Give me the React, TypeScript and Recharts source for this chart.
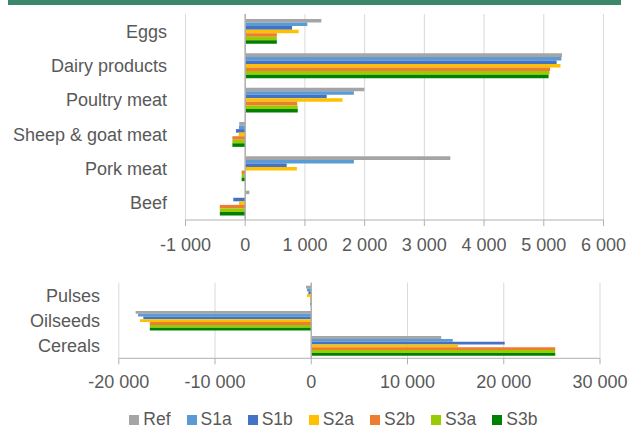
import React from "react";
import {
  BarChart,
  Bar,
  XAxis,
  YAxis,
  CartesianGrid,
  ReferenceLine,
} from "recharts";

const seriesKeys = ["Ref", "S1a", "S1b", "S2a", "S2b", "S3a", "S3b"];
const seriesColors = ["#a5a5a5", "#5b9bd5", "#4472c4", "#ffc000", "#ed7d31", "#99cc00", "#008000"];

const topCategories = ["Eggs", "Dairy products", "Poultry meat", "Sheep & goat meat", "Pork meat", "Beef"];
const topRef = [1275, 5305, 1995, -100, 3435, 70];
const topS1a = [1040, 5295, 1820, -105, 1820, 0];
const topS1b = [785, 5215, 1365, -155, 695, -200];
const topS2a = [895, 5280, 1630, -110, 865, -105];
const topS2b = [530, 5105, 870, -215, -60, -425];
const topS3a = [530, 5095, 880, -215, -60, -425];
const topS3b = [530, 5080, 880, -215, -60, -425];
const topTicks = [-1000, 0, 1000, 2000, 3000, 4000, 5000, 6000];

const bottomCategories = ["Pulses", "Oilseeds", "Cereals"];
const bottomRef = [-550, -18250, 13500];
const bottomS1a = [-450, -18000, 14700];
const bottomS1b = [-300, -17450, 20100];
const bottomS2a = [-450, -17800, 15250];
const bottomS2b = [-100, -16780, 25350];
const bottomS3a = [-100, -16780, 25350];
const bottomS3b = [-100, -16780, 25350];
const bottomTicks = [-20000, -10000, 0, 10000, 20000, 30000];

const build = (cats: string[], series: number[][]) =>
  cats.map((c, i) => {
    const row: Record<string, string | number> = { cat: c };
    seriesKeys.forEach((k, j) => {
      row[k] = series[j][i];
    });
    return row;
  });

const topData = build(topCategories, [topRef, topS1a, topS1b, topS2a, topS2b, topS3a, topS3b]);
const bottomData = build(bottomCategories, [bottomRef, bottomS1a, bottomS1b, bottomS2a, bottomS2b, bottomS3a, bottomS3b]);

const FONT = "'Liberation Sans', Arial, sans-serif";
const TEXT = "#595959";
const GRID = "#d9d9d9";
const AXIS = "#b0b0b0";

const fmt = (v: number) => {
  const s = Math.abs(v).toString().replace(/\B(?=(\d{3})+(?!\d))/g, " ");
  return (v < 0 ? "-" : "") + s;
};

const tickStyle = { fill: TEXT, fontSize: 18, fontFamily: FONT };

export default function App() {
  return (
    <div
      style={{
        position: "fixed",
        left: 0,
        top: 0,
        width: 632,
        height: 430,
        background: "#ffffff",
        overflow: "hidden",
        fontFamily: FONT,
      }}
    >
      <div style={{ position: "absolute", left: 8, top: 0, width: 613, height: 5, background: "#3b876a" }} />

      <div style={{ position: "absolute", left: 0, top: 0 }}>
        <BarChart
          width={632}
          height={260}
          data={topData}
          layout="vertical"
          margin={{ top: 14, right: 28.5, bottom: 0, left: 0 }}
          barGap={0}
        >
          <CartesianGrid horizontal={false} vertical={true} stroke={GRID} strokeWidth={1} />
          <XAxis
            type="number"
            domain={[-1000, 6000]}
            ticks={topTicks}
            tickFormatter={fmt}
            height={40}
            stroke={AXIS}
            tickSize={6}
            tickMargin={12}
            tick={tickStyle}
            interval={0}
          />
          <YAxis
            type="category"
            dataKey="cat"
            width={185.5}
            axisLine={false}
            tickLine={false}
            tickSize={0}
            tickMargin={18.5}
            tick={tickStyle}
            interval={0}
          />
          <ReferenceLine x={0} stroke={AXIS} strokeWidth={1.5} />
          {seriesKeys.map((k, i) => (
            <Bar key={k} dataKey={k} fill={seriesColors[i]} barSize={3.55} isAnimationActive={false} />
          ))}
        </BarChart>
      </div>

      <div style={{ position: "absolute", left: 0, top: 260 }}>
        <BarChart
          width={632}
          height={140}
          data={bottomData}
          layout="vertical"
          margin={{ top: 22.7, right: 32, bottom: 0, left: 0 }}
          barGap={0}
        >
          <CartesianGrid horizontal={false} vertical={true} stroke={GRID} strokeWidth={1} />
          <XAxis
            type="number"
            domain={[-20000, 30000]}
            ticks={bottomTicks}
            tickFormatter={fmt}
            height={41.7}
            stroke={AXIS}
            tickSize={6}
            tickMargin={10.7}
            tick={tickStyle}
            interval={0}
          />
          <YAxis
            type="category"
            dataKey="cat"
            width={118.8}
            axisLine={false}
            tickLine={false}
            tickSize={0}
            tickMargin={18.8}
            tick={tickStyle}
            interval={0}
          />
          <ReferenceLine x={0} stroke={AXIS} strokeWidth={1.5} />
          {seriesKeys.map((k, i) => (
            <Bar key={k} dataKey={k} fill={seriesColors[i]} barSize={2.8} isAnimationActive={false} />
          ))}
        </BarChart>
      </div>

      <div
        style={{
          position: "absolute",
          left: 129.3,
          top: 409,
          display: "flex",
          alignItems: "center",
          gap: 16,
          fontSize: 17.5,
          color: TEXT,
        }}
      >
        {seriesKeys.map((k, i) => (
          <div key={k} style={{ display: "flex", alignItems: "center", gap: 4 }}>
            <span style={{ display: "inline-block", width: 10, height: 10, background: seriesColors[i] }} />
            <span>{k}</span>
          </div>
        ))}
      </div>
    </div>
  );
}
